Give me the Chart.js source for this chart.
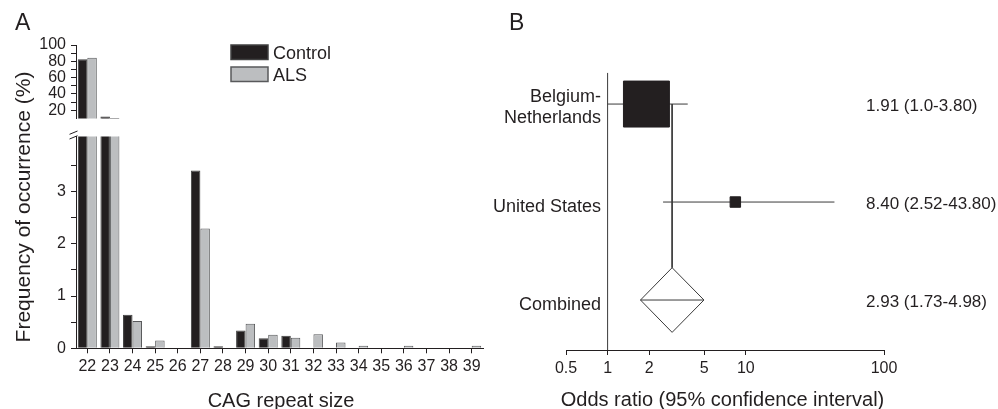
<!DOCTYPE html>
<html>
<head>
<meta charset="utf-8">
<script src="https://cdn.jsdelivr.net/npm/chart.js@4.4.1/dist/chart.umd.min.js"></script>
<style>
  html, body { margin: 0; padding: 0; background: #fff; }
  #wrap { position: relative; width: 998px; height: 409px; overflow: hidden; }
  canvas { position: absolute; }
</style>
</head>
<body>
<div id="wrap">
  <canvas id="freqLow" width="500" height="409" style="left:0;top:0"></canvas>
  <canvas id="freqHigh" width="500" height="133" style="left:0;top:0"></canvas>
  <canvas id="forest" width="528" height="409" style="left:470px;top:0"></canvas>
</div>
<script>
// panel A: CAG repeat size distribution (%)
const repeatSizes = ['22', '23', '24', '25', '26', '27', '28', '29', '30', '31', '32', '33', '34', '35', '36', '37', '38', '39'];
const controlFreq = [82.6, 12.3, 0.64, 0.04, 0, 3.4, 0.04, 0.34, 0.19, 0.24, 0, 0, 0, 0, 0, 0, 0, 0];
const alsFreq = [84.4, 10.5, 0.52, 0.15, 0, 2.29, 0, 0.47, 0.26, 0.2, 0.27, 0.11, 0.05, 0, 0.05, 0, 0, 0.05];
const upperTicks = [20, 30, 40, 50, 60, 70, 80, 90, 100];
const lowerTicks = [0, 0.5, 1, 1.5, 2, 2.5, 3, 3.5];

// panel B: odds ratios
const studyNames = [['Belgium-', 'Netherlands'], ['United States'], ['Combined']];
const studyRows = [3, 2, 1];
const oddsRatios = [1.91, 8.40];
const ciLow = [1.0, 2.52];
const ciHigh = [3.80, 43.80];
const pooled = [2.93, 1.73, 4.98]; // estimate, low, high
const ciText = ['1.91 (1.0-3.80)', '8.40 (2.52-43.80)', '2.93 (1.73-4.98)'];
const orTicks = [0.5, 1, 2, 5, 10, 100];

const FONT = '"Liberation Sans", Arial, Helvetica, sans-serif';
const INK = '#231f20';
const LINE = '#3a3a3a';

Chart.defaults.font.family = FONT;
Chart.defaults.color = INK;
Chart.defaults.animation = false;

function barSets() {
  return [
    { label: 'Control', data: controlFreq, backgroundColor: INK, borderColor: '#404040', borderWidth: 1 },
    { label: 'ALS', data: alsFreq, backgroundColor: '#bcbec0', borderColor: '#58595b', borderWidth: 1 }
  ];
}

function yAxis(min, max, ticks, label) {
  return {
    min: min,
    max: max,
    afterFit: s => { s.width = 40; },
    afterBuildTicks: s => { s.ticks = ticks.map(v => ({ value: v })); },
    border: { display: true, color: INK, width: 1 },
    grid: { drawOnChartArea: false, drawTicks: true, tickLength: 5, color: INK },
    ticks: { font: { size: 16 }, padding: 5, color: INK, autoSkip: false, callback: label }
  };
}

const legendBoxes = {
  id: 'legendBoxes',
  afterDraw(chart) {
    const ctx = chart.ctx;
    ctx.save();
    chart.data.datasets.forEach((ds, i) => {
      const x = 231, y = 45 + i * 22;
      ctx.fillStyle = ds.backgroundColor;
      ctx.fillRect(x, y, 37, 14.5);
      ctx.strokeStyle = ds.borderColor;
      ctx.lineWidth = 1.5;
      ctx.strokeRect(x, y, 37, 14.5);
      ctx.fillStyle = INK;
      ctx.font = '18px ' + FONT;
      ctx.textBaseline = 'alphabetic';
      ctx.fillText(ds.label, 273, y + 14);
    });
    ctx.restore();
  }
};

const panelADecor = {
  id: 'panelADecor',
  afterDraw(chart) {
    const ctx = chart.ctx;
    ctx.save();
    ctx.fillStyle = INK;
    ctx.font = '23px ' + FONT;
    ctx.fillText('A', 15, 30);

    ctx.font = '20px ' + FONT;
    ctx.textAlign = 'center';
    ctx.fillText('CAG repeat size', 281, 406.5);

    ctx.save();
    ctx.translate(30, 207);
    ctx.rotate(-Math.PI / 2);
    ctx.font = '21px ' + FONT;
    ctx.fillText('Frequency of occurrence (%)', 0, 0);
    ctx.restore();

    // axis break marks
    ctx.strokeStyle = INK;
    ctx.lineWidth = 1;
    ctx.beginPath();
    ctx.moveTo(69.5, 134.3); ctx.lineTo(77.5, 131);
    ctx.moveTo(69.5, 139); ctx.lineTo(77.5, 135.7);
    ctx.stroke();
    ctx.restore();
  }
};

new Chart(document.getElementById('freqLow'), {
  type: 'bar',
  data: { labels: repeatSizes, datasets: barSets() },
  options: {
    responsive: false,
    layout: { padding: { left: 36, right: 17, top: 136.5, bottom: 0 } },
    datasets: { bar: { categoryPercentage: 0.84, barPercentage: 1 } },
    scales: {
      x: {
        afterFit: s => { s.height = 60.7; },
        border: { display: true, color: INK, width: 1 },
        grid: { offset: false, drawOnChartArea: false, tickLength: 5, color: INK },
        ticks: { font: { size: 16 }, padding: 4, color: INK, maxRotation: 0, autoSkip: false }
      },
      y: yAxis(0, 4.05, lowerTicks, v => Number.isInteger(v) ? v : '')
    },
    plugins: { legend: { display: false }, tooltip: { enabled: false } }
  },
  plugins: [panelADecor]
});

new Chart(document.getElementById('freqHigh'), {
  type: 'bar',
  data: { labels: repeatSizes, datasets: barSets() },
  options: {
    responsive: false,
    layout: { padding: { left: 36, right: 17, top: 45, bottom: 1.4 } },
    datasets: { bar: { categoryPercentage: 0.84, barPercentage: 1 } },
    scales: {
      x: { display: false },
      y: yAxis(10, 100, upperTicks, v => v % 20 === 0 ? v : '')
    },
    plugins: { legend: { display: false }, tooltip: { enabled: false } }
  },
  plugins: [legendBoxes]
});

// forest plot
const Y_MIN = 0.49, Y_MAX = 3.32;
const H = 0.33; // diamond half height, in row units
const pooledRow = studyRows[2];

function segment(points) {
  return { data: points, showLine: true, pointRadius: 0, borderColor: LINE, borderWidth: 1, fill: false, tension: 0 };
}

const forestSets = [
  {
    data: oddsRatios.map((v, i) => ({ x: v, y: studyRows[i] })),
    pointStyle: 'rect',
    pointRadius: [32.5, 7.4],
    backgroundColor: INK,
    borderColor: INK,
    borderWidth: 1,
    showLine: false
  },
  ...ciLow.map((lo, i) => segment([{ x: lo, y: studyRows[i] }, { x: ciHigh[i], y: studyRows[i] }])),
  segment([
    { x: pooled[1], y: pooledRow },
    { x: pooled[0], y: pooledRow + H },
    { x: pooled[2], y: pooledRow },
    { x: pooled[0], y: pooledRow - H },
    { x: pooled[1], y: pooledRow }
  ]),
  segment([{ x: pooled[1], y: pooledRow }, { x: pooled[2], y: pooledRow }]),
  segment([{ x: pooled[0], y: studyRows[0] }, { x: pooled[0], y: pooledRow + H }]),
  segment([{ x: 1, y: Y_MIN }, { x: 1, y: Y_MAX }])
];

const panelBDecor = {
  id: 'panelBDecor',
  afterDraw(chart) {
    const ctx = chart.ctx;
    const yS = chart.scales.y;
    ctx.save();
    ctx.fillStyle = INK;
    ctx.font = '23px ' + FONT;
    ctx.fillText('B', 39, 30);

    ctx.font = '18px ' + FONT;
    ctx.textAlign = 'right';
    studyNames.forEach((lines, i) => {
      const py = yS.getPixelForValue(studyRows[i]);
      if (lines.length === 2) {
        ctx.fillText(lines[0], 131, py - 2);
        ctx.fillText(lines[1], 131, py + 18.5);
      } else {
        ctx.fillText(lines[0], 131, py + 9.7);
      }
    });

    ctx.font = '17px ' + FONT;
    ctx.textAlign = 'left';
    ciText.forEach((t, i) => {
      ctx.fillText(t, 396, yS.getPixelForValue(studyRows[i]) + 6.8);
    });

    ctx.font = '20px ' + FONT;
    ctx.textAlign = 'center';
    ctx.fillText('Odds ratio (95% confidence interval)', 252.5, 406);
    ctx.restore();
  }
};

new Chart(document.getElementById('forest'), {
  type: 'scatter',
  data: { datasets: forestSets },
  options: {
    responsive: false,
    layout: { padding: { left: 96, right: 114, top: 72.7, bottom: 0 } },
    scales: {
      x: {
        type: 'logarithmic',
        min: 0.5,
        max: 100,
        afterBuildTicks: s => { s.ticks = orTicks.map(v => ({ value: v })); },
        afterFit: s => { s.height = 59; },
        border: { display: true, color: INK, width: 1 },
        grid: { drawOnChartArea: false, tickLength: 5, color: INK },
        ticks: { font: { size: 16 }, padding: 4, color: INK, maxRotation: 0, autoSkip: false, callback: v => String(v) }
      },
      y: { display: false, min: Y_MIN, max: Y_MAX }
    },
    plugins: { legend: { display: false }, tooltip: { enabled: false } }
  },
  plugins: [panelBDecor]
});
</script>
</body>
</html>
